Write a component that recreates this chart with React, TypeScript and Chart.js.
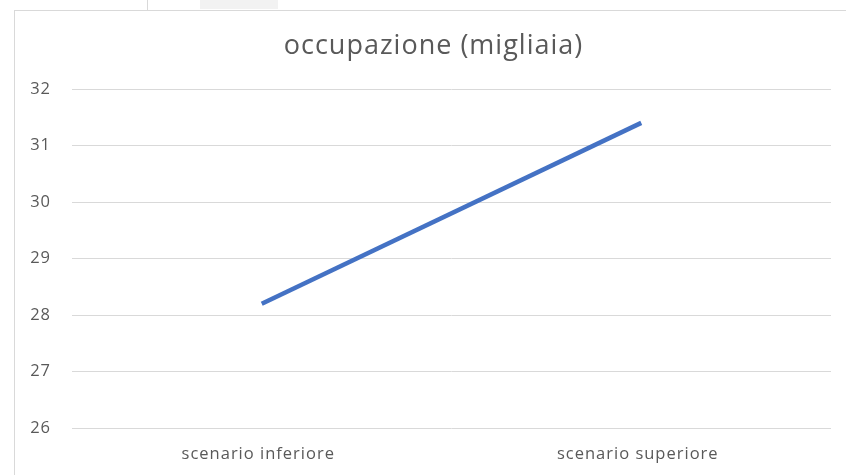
import React, { useEffect, useRef } from "react";
import { Chart, registerables } from "chart.js";

Chart.register(...registerables);

const categories = ["scenario inferiore", "scenario superiore"];
const occupazione = [28.2, 31.4];
const titleText = "occupazione (migliaia)";
const yMin = 26;
const yMax = 32;
const yStep = 1;

const spacingPlugin = {
  id: "letterSpacing",
  beforeDraw(chart: any) {
    (chart.ctx as any).letterSpacing = "1px";
  },
  beforeLayout(chart: any) {
    (chart.ctx as any).letterSpacing = "1px";
  },
  afterDraw(chart: any) {
    const ctx = chart.ctx;
    ctx.save();
    (ctx as any).letterSpacing = "1px";
    ctx.font = "normal 27px 'Open Sans'";
    ctx.fillStyle = "#595959";
    ctx.textAlign = "center";
    ctx.textBaseline = "middle";
    ctx.fillText(titleText, 433.5, 46);
    ctx.restore();
  },
};

export default function App() {
  const ref = useRef<HTMLCanvasElement | null>(null);
  useEffect(() => {
    if (!ref.current) return;
    const chart = new Chart(ref.current, {
      type: "line",
      data: {
        labels: categories,
        datasets: [
          {
            label: titleText,
            data: occupazione,
            borderColor: "#4472C4",
            backgroundColor: "#4472C4",
            borderWidth: 4.5,
            pointRadius: 0,
            tension: 0,
            borderCapStyle: "butt",
          },
        ],
      },
      options: {
        animation: false,
        responsive: false,
        maintainAspectRatio: false,
        layout: { padding: { left: 0, right: 15, top: 89, bottom: 0 } },
        plugins: {
          legend: { display: false },
          tooltip: { enabled: false },
          title: { display: false },
        },
        scales: {
          x: {
            offset: true,
            grid: { display: false, drawTicks: false },
            border: { display: false },
            ticks: {
              color: "#595959",
              font: { family: "'Open Sans'", size: 16.5 },
              padding: 16,
              maxRotation: 0,
              labelOffset: -3.5,
            },
            afterFit(scale: any) {
              scale.height = 47;
            },
          },
          y: {
            min: yMin,
            max: yMax,
            grid: { color: "#d9d9d9", lineWidth: 1, drawTicks: false },
            border: { display: false },
            ticks: {
              stepSize: yStep,
              color: "#595959",
              font: { family: "'Open Sans'", size: 16.5 },
              padding: 21,
            },
            afterFit(scale: any) {
              scale.width = 72;
            },
          },
        },
      },
      plugins: [spacingPlugin],
    } as any);
    return () => chart.destroy();
  }, []);
  return (
    <div style={{ position: "fixed", left: 0, top: 0, width: 846, height: 475, overflow: "hidden", background: "#fff" }}>
      <div style={{ position: "absolute", left: 147, top: 0, width: 1, height: 10, background: "#d9d9d9" }} />
      <div style={{ position: "absolute", left: 200, top: 0, width: 78, height: 9, background: "#f2f2f2" }} />
      <div
        style={{
          position: "absolute",
          left: 14,
          top: 10,
          width: 900,
          height: 600,
          border: "1px solid #d9d9d9",
          boxSizing: "border-box",
        }}
      />
      <canvas ref={ref} width={846} height={475} style={{ position: "absolute", left: 0, top: 0 }} />
    </div>
  );
}
